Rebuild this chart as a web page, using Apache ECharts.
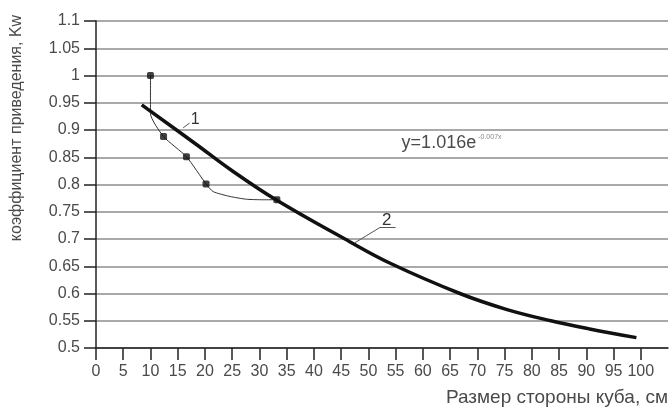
<!DOCTYPE html>
<html>
<head>
<meta charset="utf-8">
<script src="https://cdn.jsdelivr.net/npm/echarts@6/dist/echarts.min.js"></script>
<style>
html,body{margin:0;padding:0;background:#fff;}
#c{width:671px;height:409px;}
</style>
</head>
<body>
<div id="c"></div>
<script>
// ---- data ----
const xTicks = [0,5,10,15,20,25,30,35,40,45,50,55,60,65,70,75,80,85,90,95,100];
// experimental points (curve 1)
const obsX = [10, 12.4, 16.6, 20.2, 33.2];
const obsY = [1.0, 0.888, 0.851, 0.801, 0.772];
// thin connecting line of curve 1 (as drawn)
const line1X = [10, 10, 12.4, 16.6, 20.2, 21.5, 24.6, 27.6, 30.7, 33.2];
const line1Y = [1.0, 0.93, 0.888, 0.851, 0.801, 0.787, 0.778, 0.773, 0.772, 0.772];
// fitted curve 2
const fitX = [8.4, 18.5, 24.6, 33.2, 45.7, 54.1, 66.8, 75.3, 83.5, 90.6, 99.2];
const fitY = [0.946, 0.873, 0.828, 0.771, 0.70, 0.655, 0.60, 0.571, 0.55, 0.535, 0.519];
const yTitle = 'коэффициент приведения, Kw';
const xTitle = 'Размер стороны куба, см';
const equation = 'y=1.016e';
const eqExp = '-0.007x';

const zip = (a, b) => a.map((v, i) => [v, b[i]]);
const FONT = 'Liberation Sans, Arial, sans-serif';
const TXT = '#4a4a4a';

const chart = echarts.init(document.getElementById('c'), null, {renderer: 'canvas'});
chart.setOption({
  animation: false,
  backgroundColor: '#fff',
  grid: {left: 96, right: 3, top: 21, bottom: 61, containLabel: false},
  xAxis: {
    type: 'value', min: 0, max: 105, interval: 5,
    axisLine: {show: true, onZero: false, lineStyle: {color: '#222', width: 1.5}},
    axisTick: {show: true, length: 12, customValues: xTicks, lineStyle: {color: '#222', width: 1.5}},
    axisLabel: {customValues: xTicks, color: TXT, fontFamily: FONT, fontSize: 16, margin: 16},
    splitLine: {show: false}
  },
  yAxis: {
    type: 'value', min: 0.5, max: 1.1, interval: 0.05,
    axisLine: {show: true, lineStyle: {color: '#222', width: 1.5}},
    axisTick: {show: true, length: 12, lineStyle: {color: '#222', width: 1.5}},
    axisLabel: {color: TXT, fontFamily: FONT, fontSize: 16, margin: 16,
      formatter: v => String(+v.toFixed(2))},
    splitLine: {show: true, lineStyle: {color: '#8c8c8c', width: 1.5}}
  },
  graphic: [
    {type: 'text', x: 17, y: 128, rotation: Math.PI / 2,
     style: {text: yTitle, fill: TXT, font: '16px ' + FONT, align: 'center', verticalAlign: 'middle'}},
    {type: 'text', x: 668, y: 398,
     style: {text: xTitle, fill: TXT, font: '19px ' + FONT, align: 'right', verticalAlign: 'middle'}}
  ],
  series: [
    {
      name: 'line1', type: 'line', data: zip(line1X, line1Y),
      showSymbol: false, symbol: 'none', smooth: 0.2,
      lineStyle: {color: '#333', width: 1}, z: 2
    },
    {
      name: 'fit', type: 'line', data: zip(fitX, fitY),
      showSymbol: false, symbol: 'none', smooth: 0.4,
      lineStyle: {color: '#111', width: 3.5}, z: 3,
      markLine: {
        silent: true, symbol: 'none', animation: false,
        lineStyle: {color: '#555', width: 1, type: 'solid'},
        label: {show: false},
        data: [
          [{coord: [16.0, 0.904]}, {coord: [17.2, 0.913]}],
          [{coord: [47.5, 0.693]}, {coord: [52.1, 0.721]}],
          [{coord: [52.1, 0.721]}, {coord: [55.0, 0.721]}]
        ]
      },
      markPoint: {
        silent: true, symbol: 'circle', symbolSize: 0, animation: false,
        data: [
          {coord: [17.4, 0.92], label: {show: true, position: 'right', distance: 0, formatter: '1', color: '#333', fontFamily: FONT, fontSize: 16}},
          {coord: [52.5, 0.735], label: {show: true, position: 'right', distance: 0, formatter: '2', color: '#333', fontFamily: FONT, fontSize: 17}},
          {coord: [56.1, 0.877], label: {show: true, position: 'right', distance: 0,
            formatter: '{a|' + equation + '}{b|' + eqExp + '}',
            rich: {a: {color: TXT, fontFamily: FONT, fontSize: 18},
                   b: {color: '#888', fontFamily: FONT, fontSize: 7, verticalAlign: 'top', padding: [0, 0, 10, 2]}}}}
        ]
      }
    },
    {
      name: 'obs', type: 'scatter', data: zip(obsX, obsY),
      symbol: 'roundRect', symbolSize: 7,
      itemStyle: {color: '#111'}, z: 4
    }
  ]
});
</script>
</body>
</html>
